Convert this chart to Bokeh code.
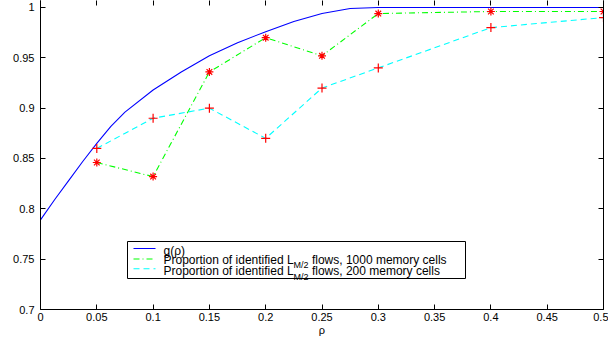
from bokeh.plotting import figure
from bokeh.models import Range1d, LinearAxis, FixedTicker, BoxAnnotation, Label, CustomJSTickFormatter
from bokeh.embed import file_html
from bokeh.resources import INLINE

# ---------------- data ----------------
rho_curve = [0, 0.0125, 0.025, 0.0375, 0.05, 0.0625, 0.075, 0.1, 0.125, 0.15, 0.175,
             0.2, 0.225, 0.25, 0.275, 0.3, 0.35, 0.4, 0.45, 0.5]
g_curve = [0.789, 0.809, 0.828, 0.847, 0.865, 0.882, 0.896, 0.918, 0.936, 0.952, 0.965,
           0.976, 0.986, 0.994, 0.999, 1.0, 1.0, 1.0, 1.0, 1.0]

rho_pts = [0.05, 0.1, 0.15, 0.2, 0.25, 0.3, 0.4, 0.5]
prop_1000 = [0.846, 0.832, 0.936, 0.970, 0.952, 0.994, 0.996, 0.996]
prop_200 = [0.860, 0.890, 0.900, 0.870, 0.920, 0.940, 0.980, 0.990]

x_ticks = [0, 0.05, 0.1, 0.15, 0.2, 0.25, 0.3, 0.35, 0.4, 0.45, 0.5]
x_tick_labels = ["0", "0.05", "0.1", "0.15", "0.2", "0.25", "0.3", "0.35", "0.4", "0.45", "0.5"]
y_ticks = [0.7, 0.75, 0.8, 0.85, 0.9, 0.95, 1.0]
y_tick_labels = ["0.7", "0.75", "0.8", "0.85", "0.9", "0.95", "1"]

legend_labels = ["g(ρ)",
                 ("Proportion of identified L", "M/2", "flows, 1000 memory cells"),
                 ("Proportion of identified L", "M/2", "flows, 200 memory cells")]

# ---------------- layout ----------------
FONT = "Liberation Sans"
FRAME_LEFT_PAGE, FRAME_W = 40, 563
FRAME_BOTTOM_PAGE, FRAME_H = 309, 309
X0, X1 = 0.0, 0.5
Y0 = 0.7
Y1 = Y0 + FRAME_H / 1006.7


def rx(px):
    return X0 + (px - FRAME_LEFT_PAGE) * (X1 - X0) / FRAME_W


def ry(py):
    return Y0 + (FRAME_BOTTOM_PAGE - py) * (Y1 - Y0) / FRAME_H


p = figure(width=608, height=340, x_range=Range1d(X0, X1), y_range=Range1d(Y0, Y1),
           output_backend="svg", toolbar_location=None,
           min_border_left=40, min_border_right=5, min_border_top=0, min_border_bottom=31,
           background_fill_color="white", border_fill_color="white")
p.xgrid.visible = False
p.ygrid.visible = False
p.outline_line_color = None

for ax, ticks, labels in ((p.xaxis[0], x_ticks, x_tick_labels), (p.yaxis[0], y_ticks, y_tick_labels)):
    ax.ticker = FixedTicker(ticks=ticks)
    ax.major_label_overrides = {t: l for t, l in zip(ticks, labels)}
    ax.major_tick_in = 5
    ax.major_tick_out = 0
    ax.minor_tick_line_color = None
    ax.axis_line_color = "black"
    ax.major_tick_line_color = "black"
    ax.major_label_text_font = FONT
    ax.major_label_text_font_size = "11px"
    ax.major_label_text_color = "black"

p.yaxis[0].major_label_standoff = 6
p.xaxis[0].major_label_standoff = 3
p.xaxis[0].axis_label = "ρ"
p.xaxis[0].axis_label_text_font = FONT
p.xaxis[0].axis_label_text_font_size = "11px"
p.xaxis[0].axis_label_text_font_style = "normal"
p.xaxis[0].axis_label_text_color = "black"
p.xaxis[0].axis_label_standoff = 0

blank = CustomJSTickFormatter(code="return ''")
top_ax = LinearAxis(ticker=FixedTicker(ticks=x_ticks), formatter=blank, axis_line_color=None,
                    major_tick_in=5, major_tick_out=0, minor_tick_line_color=None,
                    major_label_text_font_size="0px", major_label_standoff=0,
                    major_tick_line_color="black")
right_ax = LinearAxis(ticker=FixedTicker(ticks=y_ticks), formatter=blank, axis_line_color="black",
                      major_tick_in=5, major_tick_out=0, minor_tick_line_color=None,
                      major_label_text_font_size="0px", major_label_standoff=0,
                      major_tick_line_color="black")
p.add_layout(top_ax, "above")
p.add_layout(right_ax, "right")

# ---------------- legend box (under the glyphs) ----------------
p.add_layout(BoxAnnotation(left=rx(127), right=rx(465), top=ry(241), bottom=ry(278),
                           fill_color="white", fill_alpha=1, line_color="black",
                           line_width=1, line_alpha=1, level="underlay"))

# ---------------- data glyphs ----------------
p.line(rho_curve, g_curve, line_color="#0000ff", line_width=1.1)
p.line(rho_pts, prop_1000, line_color="#00ff00", line_width=1.1, line_dash="6 3 1 3")
p.line(rho_pts, prop_200, line_color="#00ffff", line_width=1.1, line_dash="6 4")
p.scatter(rho_pts, prop_1000, marker="asterisk", size=8, line_color="#ff0000", line_width=1.2)
p.scatter(rho_pts, prop_200, marker="cross", size=9, line_color="#ff0000", line_width=1.2)

# ---------------- legend samples and texts ----------------
sx0, sx1 = rx(133), rx(155)
for yy, col, dash in ((ry(248), "#0000ff", "solid"), (ry(258.5), "#00ff00", "6 3 1 3"),
                      (ry(268.3), "#00ffff", "6 4")):
    p.line([sx0, sx1], [yy, yy], line_color=col, line_width=1.1, line_dash=dash)

tx = rx(163)
MAIN_PX, SUB_PX = 12, 9
main_w = 10.839 * MAIN_PX
sub_w = 1.667 * SUB_PX
space_w = 0.278 * MAIN_PX


def lab(x, y, text, size, xoff=0):
    p.add_layout(Label(x=x, y=y, text=text, x_offset=xoff, text_font=FONT,
                       text_font_size=f"{size}px", text_color="black",
                       text_baseline="alphabetic", text_align="left"))


lab(tx, ry(250.5), legend_labels[0], MAIN_PX)
for (a, s, b), base in ((legend_labels[1], 259.0), (legend_labels[2], 270.5)):
    lab(tx, ry(base), a, MAIN_PX)
    lab(tx, ry(base + 5.8), s, SUB_PX, main_w)
    lab(tx, ry(base), b, MAIN_PX, main_w + sub_w + space_w)

open("out.html", "w").write(file_html(p, INLINE))
